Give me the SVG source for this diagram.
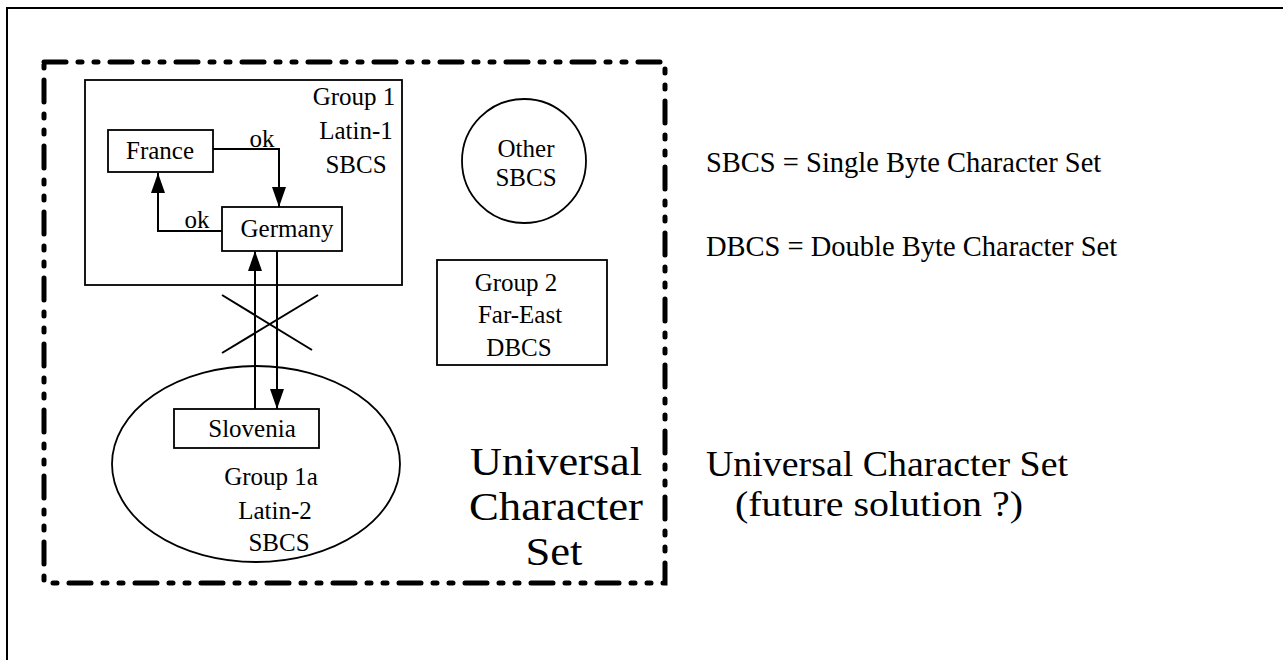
<svg xmlns="http://www.w3.org/2000/svg" width="1283" height="660" viewBox="0 0 1283 660">
  <style>
    .frame { fill: none; stroke: #000; stroke-width: 2; }
    .box { fill: #fff; stroke: #000; stroke-width: 1.8; }
    .shape { fill: none; stroke: #000; stroke-width: 1.8; }
    .dash { fill: none; stroke: #000; stroke-width: 5; stroke-linecap: round; stroke-dasharray: 22 12 4 12 4 12; }
    .conn { fill: none; stroke: #000; stroke-width: 2; }
    text { font-family: "Liberation Serif", "Times New Roman", serif; fill: #000; }
    .s { font-size: 25px; }
    .m { font-size: 28.5px; }
    .ml { font-size: 36px; }
    .l { font-size: 41px; }
  </style>
  <defs>
    <marker id="head" markerUnits="userSpaceOnUse" markerWidth="20" markerHeight="14" viewBox="0 0 20 14" refX="20" refY="7" orient="auto">
      <path d="M0,0 L20,7 L0,14 Z" fill="#000"/>
    </marker>
  </defs>

  <rect width="1283" height="660" fill="#fff"/>

  <!-- page frame (top and left edges only) -->
  <path class="frame" d="M7,660 V8 H1283"/>

  <!-- universal character set boundary -->
  <g id="ucs">
    <rect class="dash" x="44" y="62" width="621" height="521"/>
    <text class="l" x="556" y="475" text-anchor="middle" textLength="172" lengthAdjust="spacingAndGlyphs">Universal</text>
    <text class="l" x="556" y="520" text-anchor="middle" textLength="174" lengthAdjust="spacingAndGlyphs">Character</text>
    <text class="l" x="554" y="565" text-anchor="middle" textLength="57" lengthAdjust="spacingAndGlyphs">Set</text>
  </g>

  <g id="group1">
    <rect class="box" x="85" y="80" width="317" height="205"/>
    <text class="s" x="354" y="105" text-anchor="middle">Group 1</text>
    <text class="s" x="356" y="139" text-anchor="middle">Latin-1</text>
    <text class="s" x="356" y="173" text-anchor="middle">SBCS</text>
  </g>

  <g id="france">
    <rect class="box" x="108" y="130" width="105" height="42"/>
    <text class="s" x="160" y="159" text-anchor="middle">France</text>
  </g>

  <g id="germany">
    <rect class="box" x="222" y="207" width="120" height="44"/>
    <text class="s" x="287" y="237" text-anchor="middle">Germany</text>
  </g>

  <g id="other-sbcs">
    <circle class="shape" cx="524" cy="161" r="62"/>
    <text class="s" x="526" y="157" text-anchor="middle">Other</text>
    <text class="s" x="526" y="186" text-anchor="middle">SBCS</text>
  </g>

  <g id="group2">
    <rect class="box" x="437" y="260" width="170" height="105"/>
    <text class="s" x="516" y="291" text-anchor="middle">Group 2</text>
    <text class="s" x="520" y="323" text-anchor="middle">Far-East</text>
    <text class="s" x="519" y="356" text-anchor="middle">DBCS</text>
  </g>

  <g id="group1a">
    <ellipse class="shape" cx="256" cy="464" rx="144" ry="98"/>
    <text class="s" x="271" y="485" text-anchor="middle">Group 1a</text>
    <text class="s" x="275" y="519" text-anchor="middle">Latin-2</text>
    <text class="s" x="279" y="551" text-anchor="middle">SBCS</text>
  </g>

  <g id="slovenia">
    <rect class="box" x="174" y="409" width="145" height="39"/>
    <text class="s" x="252" y="437" text-anchor="middle">Slovenia</text>
  </g>

  <g id="connectors">
    <path class="conn" d="M213,149 H279 V207" marker-end="url(#head)"/>
    <text class="s" x="262" y="147" text-anchor="middle">ok</text>
    <path class="conn" d="M222,231 H158 V173" marker-end="url(#head)"/>
    <text class="s" x="197" y="228" text-anchor="middle">ok</text>
    <path class="conn" d="M255,409 V251" marker-end="url(#head)"/>
    <path class="conn" d="M277,251 V409" marker-end="url(#head)"/>
    <!-- blocked route between Latin-1 and Latin-2 -->
    <line class="conn" x1="222" y1="295" x2="312" y2="350"/>
    <line class="conn" x1="318" y1="295" x2="222" y2="353"/>
  </g>

  <g id="legend">
    <text class="m" x="706" y="172">SBCS = Single Byte Character Set</text>
    <text class="m" x="706" y="256">DBCS = Double Byte Character Set</text>
    <text class="ml" x="706" y="476" textLength="362" lengthAdjust="spacingAndGlyphs">Universal Character Set</text>
    <text class="ml" x="735" y="516" textLength="288" lengthAdjust="spacingAndGlyphs">(future solution ?)</text>
  </g>
</svg>
